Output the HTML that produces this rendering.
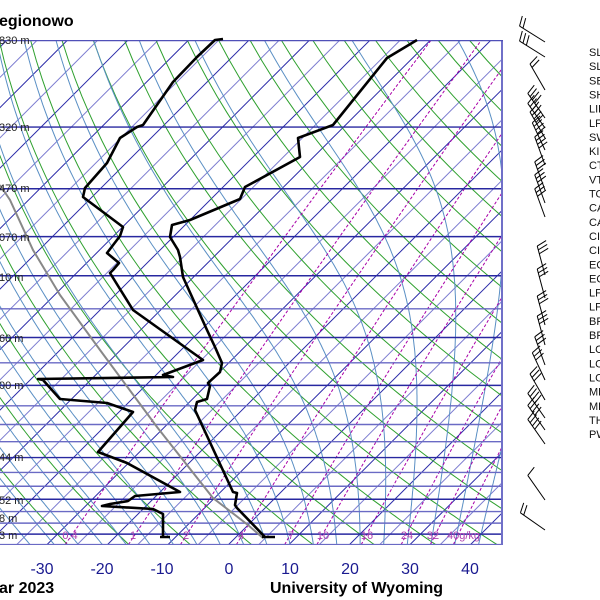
<!DOCTYPE html>
<html><head><meta charset="utf-8">
<style>
html,body{margin:0;padding:0;background:#fff;width:600px;height:600px;overflow:hidden}
svg{display:block;font-family:"Liberation Sans",sans-serif}
</style></head>
<body>
<svg id="s" width="600" height="600" viewBox="0 0 600 600" xmlns="http://www.w3.org/2000/svg">
<defs><clipPath id="c"><rect x="0" y="40" width="503" height="505"/></clipPath></defs>
<g id="grid" clip-path="url(#c)"></g>
<g id="fg"></g>
</svg>
<script>
var NS="http://www.w3.org/2000/svg";
var grid=document.getElementById('grid'),fg=document.getElementById('fg');
function el(p,tag,a,txt){var e=document.createElementNS(NS,tag);for(var k in a)e.setAttribute(k,a[k]);if(txt!=null)e.textContent=txt;p.appendChild(e);return e;}
function Y(p){return 40+214.6*Math.log(p/100);}
function X(T,y){return 228.5+6.05*T+(544.6-y);}
function poly(p,pts,st){el(p,'polyline',Object.assign({points:pts.map(function(q){return q[0].toFixed(1)+','+q[1].toFixed(1)}).join(' '),fill:'none'},st));}
// isotherms
for(var T=-160;T<=60;T+=5){
  var y1=545,y2=40;
  el(grid,'line',{x1:X(T,y1),y1:y1,x2:X(T,y2),y2:y2,stroke:(T%10==0)?'#2a2aa8':'#7c7cd0','stroke-width':1});
}
// dry adiabats
for(var th=-30;th<=200;th+=10){
  var pts=[];for(var p=1050;p>=100;p-=10){var t=(th+273.15)*Math.pow(p/1000,0.2857)-273.15;var y=Y(p);pts.push([X(t,y),y]);}
  poly(grid,pts,{stroke:'#2ea02e','stroke-width':1});
}
// moist adiabats
function es(t){return 6.112*Math.exp(17.67*t/(t+243.5));}
function rs(t,p){var e=es(t);return 0.622*e/(p-e);}
function dTdp(T,p){var Tk=T+273.15,r=rs(T,p),Lv=2.5e6,Rd=287,cp=1005;return (Rd*Tk+Lv*r)/(p*(cp+Lv*Lv*r*0.622/(Rd*Tk*Tk)));}
for(var t0=-36;t0<=44;t0+=4){
  var pts=[],T=t0;
  var Td=t0;for(var p=1000;p<1050;p+=5){Td+=dTdp(Td,p)*5;}
  T=Td;
  for(var p=1050;p>=100;p-=5){var y=Y(p);pts.push([X(T,y),y]);T-=dTdp(T,p)*5;}
  poly(grid,pts,{stroke:'#5a8fc4','stroke-width':1});
}
// mixing ratio
var ws=[0.4,1,2,4,7,10,16,24,32,40];
ws.forEach(function(w){
  var pts=[];for(var p=1050;p>=100;p-=10){var e=w*p/(622+w);var l=Math.log(e/6.112);var t=243.5*l/(17.67-l);var y=Y(p);pts.push([X(t,y),y]);}
  poly(grid,pts,{stroke:'#a800a8','stroke-width':1,'stroke-dasharray':'3,2'});
});
// isobars
for(var p=100;p<=1050;p+=50){var y=Y(p);el(grid,'line',{x1:0,y1:y,x2:503,y2:y,stroke:([100,150,200,250,300,400,500,700,850,925,1000].indexOf(p)>=0)?'#2828a0':'#6a6ac4','stroke-width':1.4});}
el(grid,'line',{x1:502,y1:40,x2:502,y2:545,stroke:'#7070c8','stroke-width':2});
el(grid,'line',{x1:0,y1:40.5,x2:503,y2:40.5,stroke:'#5050b8','stroke-width':1.5});
// mixing labels
var lx=[[70,'0.4'],[133,'1'],[186,'2'],[241,'4'],[291,'7'],[323,'10'],[367,'16'],[407,'24'],[433,'32'],[447,'40g/kg']];
lx.forEach(function(a){el(fg,'text',{x:a[0],y:539,'font-size':11,fill:'#b040b0','text-anchor':a[1].length>3?'start':'middle'},a[1]);});
// parcel
poly(fg,[[0,185],[10,200],[33,250],[60,295],[100,350],[157,427],[213,498],[248,525],[263,538]],{stroke:'#888','stroke-width':2});
// temperature
poly(fg,[[417,40],[387,58],[333,125],[298,138],[300,157],[245,187],[240,199],[190,220],[172,225],[170,237],[178,250],[180,257],[183,277],[207,330],[215,347],[222,363],[220,372],[208,383],[210,386],[207,399],[197,402],[195,410],[233,492],[237,493],[235,505],[237,508],[265,537]],{stroke:'#000','stroke-width':2.6,'stroke-linejoin':'round'});
el(fg,'line',{x1:262,y1:537,x2:275,y2:537,stroke:'#000','stroke-width':2.5});
// dewpoint
poly(fg,[[223,39],[215,40],[197,57],[173,82],[143,125],[137,127],[120,138],[107,163],[85,188],[83,197],[123,227],[120,236],[107,253],[119,263],[113,270],[110,273],[133,310],[203,360],[163,375],[173,377],[38,379],[43,380],[60,399],[107,403],[133,412],[98,452],[127,463],[180,492],[135,496],[128,501],[110,504],[102,506],[153,509],[163,514],[163,537]],{stroke:'#000','stroke-width':2.6,'stroke-linejoin':'round'});
el(fg,'line',{x1:160,y1:537,x2:170,y2:537,stroke:'#000','stroke-width':2.5});
// height labels
[[40,'830 m'],[127,'320 m'],[188,'470 m'],[237,'070 m'],[277,'10 m'],[338,'60 m'],[385,'00 m'],[457,'44 m'],[500,'52 m'],[518,'8 m'],[535,'3 m']].forEach(function(a){
 el(fg,'text',{x:-1,y:a[0]+4,'font-size':11,fill:'#222'},a[1]);});
el(fg,'text',{x:-1,y:26,'font-size':16,'font-weight':'bold',fill:'#000'},'egionowo');
el(fg,'text',{x:-1,y:593,'font-size':16,'font-weight':'bold',fill:'#000'},'ar 2023');
el(fg,'text',{x:270,y:593,'font-size':16,'font-weight':'bold',fill:'#000'},'University of Wyoming');
[[-30,42],[-20,102],[-10,162],[0,229],[10,290],[20,350],[30,410],[40,470]].forEach(function(a){
 el(fg,'text',{x:a[1],y:574,'font-size':16,fill:'#1a1a90','text-anchor':'middle'},String(a[0]));});
var names=['SLAT','SLON','SELV','SHOW','LIFT','LFTV','SWET','KINX','CTOT','VTOT','TOTL','CAPE','CAPV','CINS','CINV','EQLV','EQTV','LFCT','LFCV','BRCH','BRCV','LCLT','LCLP','LCLV','MLTH','MLMR','THTK','PWAT'];
names.forEach(function(n,i){el(fg,'text',{x:589,y:56+i*14.15,'font-size':11,fill:'#111'},n);});
// wind barbs: [baseY, angle from vertical (tilt left), feathers]
var bys=[[42,58,2],[57,58,3],[90,30,2],[118,35,4],[128,35,4],[138,30,4],[150,25,4],[165,20,4],[190,20,3],[203,20,3],[217,20,3],[275,15,3],[298,15,3],[325,15,3],[345,15,3],[365,20,3],[380,25,3],[400,30,3],[418,35,4],[430,35,4],[444,35,4],[500,35,1],[530,55,2]];
bys.forEach(function(b){
 var bx=545,by=b[0],a=b[1]*Math.PI/180,L=30;
 var dx=-Math.sin(a),dy=-Math.cos(a);
 var tx=bx+dx*L,ty=by+dy*L;
 el(fg,'line',{x1:bx,y1:by,x2:tx,y2:ty,stroke:'#000','stroke-width':1});
 var fx=-dy,fy=dx; // perpendicular
 for(var i=0;i<b[2];i++){var px=tx-dx*i*4,py=ty-dy*i*4;
  el(fg,'line',{x1:px,y1:py,x2:px+fx*10+dx*3,y2:py+fy*10+dy*3,stroke:'#000','stroke-width':1});}
});
</script>
</body></html>
